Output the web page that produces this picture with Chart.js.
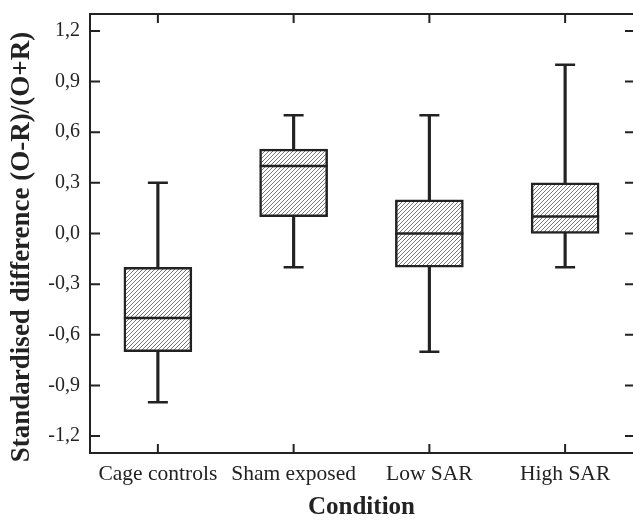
<!DOCTYPE html>
<html>
<head>
<meta charset="utf-8">
<script src="https://cdn.jsdelivr.net/npm/chart.js@4"></script>
<style>
  html, body { margin: 0; padding: 0; background: #fff; }
  #wrap { width: 633px; height: 524px; }
</style>
</head>
<body>
<div id="wrap"><canvas id="chart" width="633" height="524"></canvas></div>
<script>
// ---------- Data ----------
const conditions = ["Cage controls", "Sham exposed", "Low SAR", "High SAR"];
const whiskerMin = [-1.0, -0.2, -0.7, -0.2];
const quart1 = [-0.7, 0.1, -0.2, 0.0];
const medians = [-0.5, 0.4, 0.0, 0.1];
const quart3 = [-0.2, 0.5, 0.2, 0.3];
const whiskerMax = [0.3, 0.7, 0.7, 1.0];
const yTicks = [-1.2, -0.9, -0.6, -0.3, 0.0, 0.3, 0.6, 0.9, 1.2];

const INK = "#222";
const SERIF = "'Liberation Serif', 'DejaVu Serif', serif";

// ---------- Hatch pattern ----------
function makeHatch() {
  const s = 4;
  const c = document.createElement("canvas");
  c.width = s; c.height = s;
  const g = c.getContext("2d");
  g.fillStyle = "#fff";
  g.fillRect(0, 0, s, s);
  g.strokeStyle = "#666";
  g.lineWidth = 0.9;
  g.beginPath();
  g.moveTo(0, s); g.lineTo(s, 0);
  g.moveTo(-1, 1); g.lineTo(1, -1);
  g.moveTo(s - 1, s + 1); g.lineTo(s + 1, s - 1);
  g.stroke();
  return document.getElementById("chart").getContext("2d").createPattern(c, "repeat");
}

// ---------- Frame + inward ticks ----------
const framePlugin = {
  id: "frame",
  afterDatasetsDraw(chart) {
    const { ctx, chartArea: a, scales } = chart;
    ctx.save();
    ctx.strokeStyle = INK;
    ctx.lineWidth = 2;
    ctx.beginPath();
    ctx.moveTo(a.right + 2, a.top);
    ctx.lineTo(a.left, a.top);
    ctx.lineTo(a.left, a.bottom);
    ctx.lineTo(a.right + 2, a.bottom);
    ctx.stroke();

    ctx.beginPath();
    yTicks.forEach(v => {
      const y = scales.y.getPixelForValue(v);
      ctx.moveTo(a.left, y); ctx.lineTo(a.left + 10, y);
      ctx.moveTo(a.right - 8, y); ctx.lineTo(a.right, y);
    });
    conditions.forEach((c, i) => {
      const x = scales.x.getPixelForValue(i);
      ctx.moveTo(x, a.bottom); ctx.lineTo(x, a.bottom - 9);
      ctx.moveTo(x, a.top); ctx.lineTo(x, a.top + 9);
    });
    ctx.stroke();
    ctx.restore();
  }
};

function noPadding(scale) {
  scale.paddingTop = 0;
  scale.paddingBottom = 0;
  scale.paddingLeft = 0;
  scale.paddingRight = 0;
}

// ---------- Chart ----------
const hatch = makeHatch();

new Chart(document.getElementById("chart"), {
  data: {
    labels: conditions,
    datasets: [
      {
        type: "line",
        data: medians,
        showLine: false,
        pointStyle: "line",
        pointRadius: 34,
        pointHoverRadius: 34,
        pointBorderWidth: 2.5,
        borderColor: INK,
        order: 0
      },
      {
        type: "line",
        data: whiskerMin,
        showLine: false,
        pointStyle: "line",
        pointRadius: 10,
        pointHoverRadius: 10,
        pointBorderWidth: 2.5,
        borderColor: INK,
        order: 1
      },
      {
        type: "line",
        data: whiskerMax,
        showLine: false,
        pointStyle: "line",
        pointRadius: 10,
        pointHoverRadius: 10,
        pointBorderWidth: 2.5,
        borderColor: INK,
        order: 1
      },
      {
        type: "bar",
        data: quart1.map((q, i) => [q, quart3[i]]),
        backgroundColor: hatch,
        borderColor: INK,
        borderWidth: 2.5,
        borderSkipped: false,
        barThickness: 68,
        grouped: false,
        order: 2
      },
      {
        type: "bar",
        data: whiskerMin.map((m, i) => [m, whiskerMax[i]]),
        backgroundColor: INK,
        borderWidth: 0,
        barThickness: 2.5,
        grouped: false,
        order: 3
      }
    ]
  },
  options: {
    responsive: false,
    animation: false,
    layout: { autoPadding: false, padding: { top: 14, right: 0, left: 0, bottom: 0 } },
    plugins: { legend: { display: false }, tooltip: { enabled: false } },
    scales: {
      x: {
        grid: { display: false, drawTicks: false },
        border: { display: false },
        ticks: {
          color: INK,
          padding: 8,
          maxRotation: 0,
          autoSkip: false,
          font: { family: SERIF, size: 21.5 }
        },
        title: {
          display: true,
          text: "Condition",
          color: INK,
          padding: { top: 0, bottom: 4 },
          font: { family: SERIF, size: 25, weight: "bold", lineHeight: 1 }
        },
        afterFit(scale) { scale.height = 71; noPadding(scale); }
      },
      y: {
        min: -1.3,
        max: 1.3,
        grid: { display: false, drawTicks: false },
        border: { display: false },
        afterBuildTicks(axis) { axis.ticks = yTicks.map(v => ({ value: v })); },
        ticks: {
          color: INK,
          padding: 10,
          font: { family: SERIF, size: 20 },
          callback: v => v.toFixed(1).replace(".", ",")
        },
        title: {
          display: true,
          text: "Standardised difference (O-R)/(O+R)    ",
          color: INK,
          padding: { top: 9, bottom: 0 },
          font: { family: SERIF, size: 27, weight: "bold", lineHeight: 1 }
        },
        afterFit(scale) { scale.width = 90; noPadding(scale); }
      }
    }
  },
  plugins: [framePlugin]
});
</script>
</body>
</html>
